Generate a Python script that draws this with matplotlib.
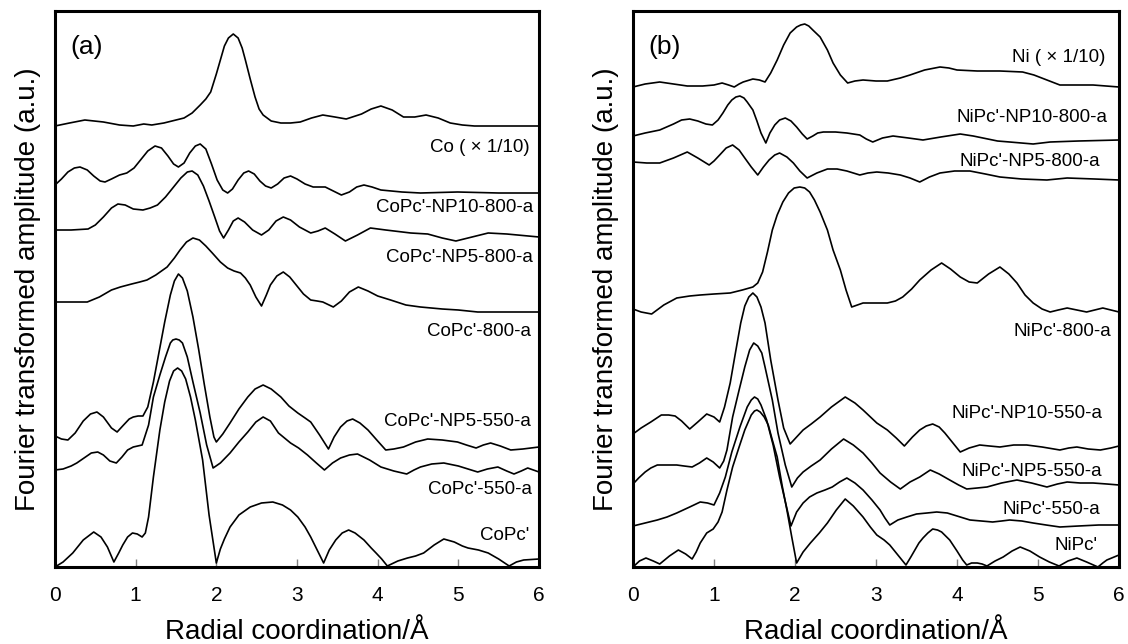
import matplotlib
matplotlib.use("Agg")
import matplotlib.pyplot as plt

plt.rcParams["font.family"] = ["Liberation Sans", "DejaVu Sans"]

# ---- panel (a): Co K-edge FT magnitudes (offset, arbitrary units) ----
co_r = [0, 0.18, 0.37, 0.6, 0.8, 0.97, 1.1, 1.2, 1.35, 1.5, 1.6, 1.7, 1.8, 1.87, 1.93, 2.0, 2.05,
        2.10, 2.15, 2.21, 2.27, 2.32, 2.36, 2.42, 2.48, 2.53, 2.58, 2.68, 2.80, 2.92, 3.04, 3.18,
        3.32, 3.47, 3.61, 3.8, 3.92, 4.04, 4.18, 4.32, 4.46, 4.6, 4.75, 4.9, 5.05, 5.2, 5.6, 6.0]
co_y = [441, 444, 447, 445, 442, 441, 443, 442, 444, 447, 449, 454, 462, 468, 475, 493, 507,
        521, 529, 533, 529, 519, 507, 488, 470, 458, 452, 446, 444, 444, 445, 449,
        452, 450, 448, 453, 458, 461, 457, 450, 450, 452, 449, 444, 442, 441, 441, 441]

conp10_800_r = [0, 0.08, 0.16, 0.24, 0.31, 0.40, 0.48, 0.56, 0.62, 0.70, 0.80, 0.89, 0.98, 1.06,
                1.15, 1.24, 1.32, 1.40, 1.47, 1.53, 1.60, 1.67, 1.74, 1.80, 1.87, 1.94, 2.01,
                2.08, 2.14, 2.20, 2.27, 2.34, 2.40, 2.47, 2.54, 2.61, 2.68, 2.76, 2.84, 2.92,
                3.0, 3.1, 3.2, 3.35, 3.45, 3.55, 3.65, 3.74, 3.83, 3.93, 4.04, 4.3, 4.53, 4.99,
                5.5, 6.0]
conp10_800_y = [382, 388, 395, 399, 400, 397, 391, 386, 385, 388, 392, 394, 399, 407,
                416, 421, 419, 411, 403, 400, 404, 414, 421, 423, 418, 403, 387,
                377, 374, 378, 387, 394, 396, 393, 386, 381, 379, 383, 389, 391,
                388, 383, 380, 380, 376, 372, 375, 380, 382, 380, 377, 375, 374, 375,
                374, 374]

conp5_800_r = [0, 0.2, 0.41, 0.5, 0.6, 0.7, 0.78, 0.87, 0.97, 1.09, 1.18, 1.27, 1.37, 1.47, 1.56,
               1.64, 1.70, 1.77, 1.84, 1.91, 1.98, 2.04, 2.09, 2.15, 2.21, 2.27, 2.35, 2.45, 2.56,
               2.65, 2.74, 2.83, 2.92, 3.03, 3.17, 3.26, 3.35, 3.47, 3.60, 3.75, 3.91, 4.1, 4.41,
               4.62, 4.8, 4.97, 5.17, 5.37, 5.6, 6.0]
conp5_800_y = [337, 337, 338, 342, 350, 359, 363, 362, 358, 357, 359, 362, 370, 380, 389,
               395, 396, 392, 381, 366, 350, 336, 329, 337, 346, 349, 345, 337, 332,
               337, 346, 350, 347, 340, 334, 336, 339, 333, 326, 332, 339, 337, 334,
               333, 329, 326, 330, 334, 333, 330]

co800_r = [0, 0.2, 0.4, 0.55, 0.7, 0.81, 0.95, 1.05, 1.14, 1.25, 1.39, 1.48, 1.55, 1.63, 1.71,
           1.79, 1.87, 1.95, 2.05, 2.14, 2.22, 2.30, 2.36, 2.42, 2.49, 2.56, 2.62, 2.67, 2.75,
           2.83, 2.91, 2.99, 3.08, 3.17, 3.25, 3.32, 3.45, 3.55, 3.65, 3.76, 3.88, 4.0, 4.16,
           4.35, 4.53, 4.8, 5.0, 5.24, 5.6, 6.0]
co800_y = [265, 265, 265, 270, 277, 280, 283, 285, 287, 292, 300, 309, 317, 325, 329,
           327, 321, 314, 305, 299, 296, 294, 289, 282, 270, 261, 272, 282, 291,
           295, 290, 282, 273, 267, 266, 265, 260, 266, 275, 280, 276, 271, 267,
           262, 260, 258, 257, 255, 255, 255]

conp5_550_r = [0, 0.08, 0.16, 0.25, 0.35, 0.44, 0.52, 0.6, 0.7, 0.77, 0.85, 0.92, 0.97, 1.03,
               1.09, 1.15, 1.22, 1.29, 1.36, 1.43, 1.48, 1.53, 1.58, 1.64, 1.71, 1.78, 1.85,
               1.92, 1.97, 2.0, 2.08, 2.17, 2.28, 2.39, 2.48, 2.58, 2.68, 2.80, 2.9, 3.01, 3.1,
               3.17, 3.28, 3.39, 3.46, 3.54, 3.62, 3.69, 3.78, 3.88, 4.0, 4.10, 4.2, 4.32, 4.47,
               4.62, 4.8, 4.99, 5.1, 5.22, 5.31, 5.40, 5.52, 5.65, 5.8, 6.0]
conp5_550_y = [131, 128, 127, 134, 146, 153, 155, 150, 139, 135, 142, 148, 150, 151,
               151, 160, 185, 215, 245, 272, 286, 293, 289, 276, 250, 218, 183,
               150, 130, 125, 133, 144, 158, 170, 178, 182, 178, 170, 161, 154, 149,
               145, 132, 118, 130, 140, 146, 148, 144, 137, 126, 117, 118, 120, 125,
               128, 127, 125, 122, 119, 122, 124, 121, 117, 118, 120]

co550_r = [0, 0.1, 0.2, 0.27, 0.36, 0.45, 0.53, 0.6, 0.68, 0.76, 0.83, 0.9, 0.97, 1.08, 1.16,
           1.22, 1.30, 1.37, 1.43, 1.46, 1.50, 1.54, 1.58, 1.64, 1.71, 1.80, 1.88, 1.96, 2.05,
           2.17, 2.28, 2.39, 2.49, 2.58, 2.67, 2.77, 2.92, 3.02, 3.13, 3.24, 3.34, 3.44, 3.54,
           3.65, 3.75, 3.9, 4.04, 4.2, 4.36, 4.45, 4.53, 4.67, 4.82, 5.0, 5.12, 5.24, 5.36,
           5.49, 5.6, 5.69, 5.78, 5.86, 6.0]
co550_y = [97, 98, 101, 104, 109, 114, 115, 112, 106, 104, 110, 117, 120, 122, 142,
           170, 192, 210, 224, 227, 228, 227, 224, 210, 185, 154, 122, 99, 104,
           114, 125, 135, 145, 150, 146, 134, 124, 119, 112, 104, 97, 104, 109,
           112, 113, 107, 100, 96, 93, 97, 100, 103, 104, 101, 98, 95, 98,
           100, 96, 93, 96, 99, 95]

copc_r = [0, 0.1, 0.22, 0.35, 0.48, 0.57, 0.65, 0.73, 0.79, 0.84, 0.9, 0.96, 1.02, 1.08, 1.12,
          1.16, 1.22, 1.30, 1.36, 1.42, 1.47, 1.52, 1.57, 1.62, 1.68, 1.74, 1.83, 1.91, 2.0,
          2.05, 2.1, 2.17, 2.28, 2.42, 2.56, 2.70, 2.82, 2.92, 3.01, 3.1, 3.17, 3.25, 3.33,
          3.4, 3.48, 3.56, 3.64, 3.72, 3.83, 3.92, 3.98, 4.05, 4.12, 4.25, 4.37, 4.47, 4.57,
          4.7, 4.82, 4.95, 5.05, 5.12, 5.25, 5.37, 5.5, 5.63, 5.72, 5.81, 6.0]
copc_y = [0, 5, 14, 27, 35, 30, 20, 5, 14, 22, 30, 34, 33, 30, 34,
          50, 90, 137, 165, 186, 196, 199, 196, 188, 170, 147, 107, 52, 4,
          18, 28, 40, 52, 60, 64, 65, 62, 57, 50, 40, 30, 17, 4,
          17, 27, 34, 37, 34, 27, 19, 14, 8, 1, 6, 9, 11, 14,
          22, 28, 25, 21, 19, 17, 14, 8, 1, 5, 7, 8]

labels_a = ["Co ( \u00d7 1/10)", "CoPc'-NP10-800-a", "CoPc'-NP5-800-a", "CoPc'-800-a",
            "CoPc'-NP5-550-a", "CoPc'-550-a", "CoPc'"]
label_a_r = [5.88, 5.93, 5.93, 5.9, 5.9, 5.91, 5.88]
label_a_y = [420, 359, 310, 235, 145, 78, 31]

# ---- panel (b): Ni K-edge FT magnitudes ----
ni_r = [0, 0.15, 0.33, 0.5, 0.67, 0.86, 1.0, 1.10, 1.18, 1.25, 1.31, 1.36, 1.48, 1.56, 1.63,
        1.70, 1.78, 1.86, 1.94, 2.02, 2.07, 2.12, 2.17, 2.22, 2.31, 2.40, 2.47, 2.56, 2.65,
        2.74, 2.84, 3.0, 3.14, 3.3, 3.42, 3.6, 3.79, 3.9, 4.0, 4.25, 4.53, 4.81, 4.95, 5.11,
        5.27, 5.5, 5.68, 6.0]
ni_y = [480, 483, 485, 483, 481, 481, 482, 484, 482, 480, 483, 485, 488, 487, 485,
        494, 507, 522, 534, 540, 542, 543, 541, 537, 530, 517, 504, 492, 484,
        486, 487, 486, 486, 489, 492, 497, 500, 499, 497, 496, 496, 495, 492, 487,
        482, 482, 482, 480]

ninp10_800_r = [0, 0.15, 0.33, 0.5, 0.6, 0.70, 0.8, 0.9, 0.98, 1.05, 1.11, 1.17, 1.22, 1.27,
                1.32, 1.37, 1.41, 1.48, 1.53, 1.58, 1.64, 1.69, 1.75, 1.81, 1.88, 1.95, 2.02,
                2.09, 2.15, 2.22, 2.28, 2.35, 2.5, 2.64, 2.80, 2.88, 2.96, 3.08, 3.21, 3.4,
                3.58, 3.8, 4.04, 4.2, 4.32, 4.5, 4.65, 4.94, 5.15, 5.5, 6.0]
ninp10_800_y = [431, 434, 437, 443, 447, 448, 446, 443, 442, 447, 454, 462, 467, 470,
                471, 469, 465, 457, 446, 434, 424, 434, 442, 447, 449, 446, 440,
                433, 428, 431, 434, 435, 435, 434, 432, 428, 425, 429, 431, 429,
                427, 430, 433, 431, 429, 426, 425, 423, 425, 426, 427]

ninp5_800_r = [0, 0.17, 0.33, 0.5, 0.67, 0.8, 0.94, 1.0, 1.07, 1.15, 1.23, 1.31, 1.38, 1.46,
               1.54, 1.61, 1.68, 1.75, 1.81, 1.9, 1.98, 2.06, 2.15, 2.27, 2.40, 2.52, 2.64,
               2.80, 2.9, 3.01, 3.15, 3.30, 3.42, 3.54, 3.66, 3.79, 3.97, 4.16, 4.35, 4.53,
               4.8, 5.11, 5.36, 5.7, 6.0]
ninp5_800_y = [405, 404, 404, 409, 415, 409, 402, 406, 412, 419, 422, 417, 409, 400,
               392, 400, 407, 412, 414, 410, 404, 396, 389, 394, 398, 398, 396,
               392, 394, 395, 394, 392, 389, 385, 390, 394, 396, 396, 393, 390,
               388, 387, 389, 388, 387]

ni800_r = [0, 0.1, 0.23, 0.38, 0.54, 0.7, 0.83, 1.0, 1.20, 1.35, 1.48, 1.54, 1.60, 1.66, 1.72,
           1.78, 1.85, 1.92, 1.99, 2.06, 2.12, 2.18, 2.24, 2.31, 2.40, 2.47, 2.56, 2.63, 2.70,
           2.77, 2.84, 3.0, 3.14, 3.24, 3.33, 3.44, 3.54, 3.68, 3.81, 3.92, 4.04, 4.15, 4.25,
           4.39, 4.53, 4.64, 4.74, 4.84, 4.94, 5.05, 5.15, 5.25, 5.36, 5.48, 5.60, 5.70, 5.80,
           5.9, 6.0]
ni800_y = [258, 255, 253, 262, 269, 271, 272, 273, 274, 277, 280, 284, 295, 315, 337,
           352, 365, 374, 379, 380, 379, 375, 367, 355, 337, 317, 297, 277, 260,
           262, 264, 264, 264, 266, 270, 278, 287, 297, 304, 298, 290, 285, 284,
           293, 300, 293, 284, 272, 264, 258, 255, 257, 259, 257, 255, 257, 259,
           257, 255]

ninp10_550_r = [0, 0.1, 0.22, 0.35, 0.44, 0.52, 0.6, 0.70, 0.8, 0.91, 1.0, 1.07, 1.13, 1.20,
                1.26, 1.33, 1.38, 1.43, 1.48, 1.53, 1.58, 1.63, 1.70, 1.79, 1.86, 1.94, 2.02,
                2.10, 2.2, 2.31, 2.45, 2.62, 2.74, 2.84, 3.01, 3.14, 3.25, 3.35, 3.45, 3.54,
                3.62, 3.70, 3.78, 3.85, 3.95, 4.04, 4.15, 4.28, 4.4, 4.53, 4.7, 4.86, 5.05,
                5.27, 5.38, 5.48, 5.62, 5.77, 5.9, 6.0]
ninp10_550_y = [133, 139, 145, 152, 152, 151, 146, 138, 145, 153, 150, 145, 160, 184,
                212, 244, 261, 270, 274, 270, 260, 244, 207, 167, 139, 123, 130,
                137, 143, 150, 160, 170, 164, 157, 144, 137, 129, 121, 130, 137,
                141, 143, 140, 134, 124, 115, 119, 122, 121, 120, 122, 122, 120,
                117, 119, 120, 118, 117, 119, 121]

ninp5_550_r = [0, 0.07, 0.15, 0.22, 0.30, 0.42, 0.54, 0.63, 0.73, 0.82, 0.91, 0.99, 1.07, 1.12,
               1.16, 1.23, 1.31, 1.38, 1.44, 1.49, 1.54, 1.59, 1.63, 1.72, 1.79, 1.88, 1.96,
               2.03, 2.10, 2.2, 2.31, 2.45, 2.60, 2.72, 2.84, 2.95, 3.05, 3.18, 3.30, 3.42,
               3.54, 3.67, 3.78, 3.91, 4.02, 4.12, 4.25, 4.37, 4.55, 4.74, 4.92, 5.11, 5.24,
               5.36, 5.52, 5.68, 5.85, 6.0]
ninp5_550_y = [83, 89, 95, 99, 102, 102, 102, 101, 100, 104, 109, 105, 99, 106,
               117, 150, 177, 200, 217, 224, 221, 214, 200, 167, 134, 102, 80,
               89, 95, 101, 107, 118, 128, 122, 114, 104, 94, 85, 78, 85,
               90, 97, 93, 87, 82, 78, 79, 80, 84, 87, 84, 80, 83,
               85, 84, 84, 83, 82]

ni550_r = [0, 0.15, 0.30, 0.42, 0.54, 0.7, 0.83, 0.92, 1.0, 1.07, 1.14, 1.22, 1.32, 1.41, 1.46,
           1.50, 1.54, 1.58, 1.65, 1.73, 1.81, 1.89, 1.95, 2.02, 2.10, 2.18, 2.27, 2.37, 2.46,
           2.55, 2.64, 2.74, 2.84, 2.95, 3.05, 3.11, 3.17, 3.27, 3.38, 3.5, 3.63, 3.75, 3.88,
           4.0, 4.16, 4.3, 4.44, 4.55, 4.65, 4.8, 4.94, 5.1, 5.27, 5.5, 5.75, 6.0]
ni550_y = [41, 44, 47, 50, 54, 60, 65, 64, 62, 74, 90, 115, 140, 160, 167,
           170, 168, 162, 147, 122, 90, 62, 41, 55, 64, 70, 74, 77, 80,
           85, 89, 84, 77, 67, 57, 49, 42, 47, 50, 53, 54, 55, 54,
           51, 47, 46, 45, 46, 47, 46, 44, 42, 40, 41, 42, 42]

nipc_r = [0, 0.08, 0.16, 0.25, 0.33, 0.45, 0.56, 0.65, 0.73, 0.78, 0.83, 0.91, 0.99, 1.05, 1.10,
          1.16, 1.23, 1.31, 1.38, 1.46, 1.50, 1.53, 1.57, 1.62, 1.67, 1.72, 1.78, 1.84, 1.90,
          1.96, 2.02, 2.1, 2.19, 2.30, 2.40, 2.51, 2.62, 2.72, 2.84, 2.93, 3.01, 3.1, 3.17,
          3.27, 3.37, 3.43, 3.48, 3.53, 3.58, 3.64, 3.70, 3.76, 3.81, 3.86, 3.91, 4.0, 4.07,
          4.12, 4.18, 4.25, 4.31, 4.37, 4.47, 4.57, 4.68, 4.78, 4.9, 5.02, 5.14, 5.26, 5.37,
          5.48, 5.6, 5.74, 5.8, 5.85, 6.0]
nipc_y = [0, 6, 9, 6, 3, 11, 17, 13, 8, 15, 24, 34, 38, 45, 55,
          77, 100, 120, 137, 152, 156, 157, 155, 150, 142, 127, 110, 82, 57,
          30, 4, 15, 24, 34, 44, 57, 68, 61, 50, 40, 32, 27, 22,
          12, 2, 10, 17, 24, 29, 34, 38, 37, 35, 31, 27, 16, 7,
          2, 4, 4, 3, 1, 6, 10, 16, 20, 16, 10, 5, 1, 6,
          9, 5, 0, 4, 7, 12]

labels_b = ["Ni ( \u00d7 1/10)", "NiPc'-NP10-800-a", "NiPc'-NP5-800-a", "NiPc'-800-a",
            "NiPc'-NP10-550-a", "NiPc'-NP5-550-a", "NiPc'-550-a", "NiPc'"]
label_b_r = [5.83, 5.86, 5.77, 5.9, 5.80, 5.79, 5.77, 5.74]
label_b_y = [509, 449, 405, 235, 154, 95, 58, 22]

curves_a = [(co_r, co_y), (conp10_800_r, conp10_800_y), (conp5_800_r, conp5_800_y),
            (co800_r, co800_y), (conp5_550_r, conp5_550_y), (co550_r, co550_y), (copc_r, copc_y)]
curves_b = [(ni_r, ni_y), (ninp10_800_r, ninp10_800_y), (ninp5_800_r, ninp5_800_y),
            (ni800_r, ni800_y), (ninp10_550_r, ninp10_550_y), (ninp5_550_r, ninp5_550_y),
            (ni550_r, ni550_y), (nipc_r, nipc_y)]

fig = plt.figure(figsize=(11.28, 6.44), dpi=100)
ax_a = fig.add_axes([55 / 1128, 1 - 567 / 644, 484 / 1128, 556 / 644])
ax_b = fig.add_axes([633 / 1128, 1 - 567 / 644, 486 / 1128, 556 / 644])


def draw_panel(ax, curves, labels, lab_r, lab_y, tag):
    for r, y in curves:
        ax.plot(r, y, color="black", lw=1.2, solid_joinstyle="round")
    for text, lx, ly in zip(labels, lab_r, lab_y):
        ax.text(lx, ly, text, ha="right", va="center", fontsize=13.5)
    ax.text(0.19, 520, tag, ha="left", va="center", fontsize=19)
    ax.set_xlim(0, 6)
    ax.set_ylim(0, 556)
    ax.set_xticks(range(0, 7))
    ax.set_yticks([])
    ax.tick_params(axis="x", direction="in", length=6, width=1, color="#808080",
                   labelsize=15, pad=14)
    for s in ax.spines.values():
        s.set_linewidth(2.2)
    ax.set_xlabel("Radial coordination/\u00c5", fontsize=20, labelpad=10)
    ax.set_ylabel("Fourier transformed amplitude (a.u.)", fontsize=20, labelpad=10)


draw_panel(ax_a, curves_a, labels_a, label_a_r, label_a_y, "(a)")
draw_panel(ax_b, curves_b, labels_b, label_b_r, label_b_y, "(b)")

fig.savefig("out.png", dpi=100)
